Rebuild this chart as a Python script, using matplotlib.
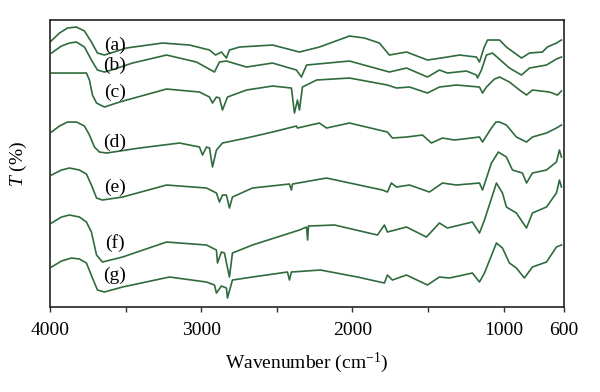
import matplotlib
matplotlib.use("Agg")
import matplotlib.pyplot as plt

plt.rcParams['font.family'] = ['Liberation Serif', 'DejaVu Serif']
plt.rcParams['mathtext.fontset'] = 'custom'
plt.rcParams['mathtext.rm'] = 'Liberation Serif'
plt.rcParams['mathtext.it'] = 'Liberation Serif:italic'

# FTIR spectra (wavenumber in cm-1, transmittance in arbitrary offset units)
wn_a = [4000, 3937, 3884, 3825, 3772, 3726, 3686, 3640, 3494, 3256, 3077, 2945, 2905, 2866, 2833, 2813,
        2747, 2528, 2350, 2218, 2019, 1920, 1821, 1755, 1642, 1503, 1371, 1292, 1179, 1159, 1130, 1106,
        1026, 981, 881, 828, 743, 710, 650, 617]
t_a = [265, 274, 279, 280, 276, 265, 254, 252, 259, 264, 262, 257, 252, 255, 249, 257,
       260, 262, 255, 260, 271, 269, 264, 252, 255, 247, 250, 252, 250, 245, 259, 267,
       267, 260, 249, 254, 255, 260, 264, 267]

wn_b = [3990, 3924, 3871, 3825, 3772, 3726, 3686, 3640, 3593, 3454, 3229, 3031, 2912, 2879, 2833, 2700,
        2528, 2370, 2337, 2303, 2019, 1755, 1642, 1503, 1424, 1371, 1245, 1179, 1172, 1146, 1113, 1073,
        961, 881, 828, 716, 650, 617]
t_b = [254, 261, 264, 265, 260, 247, 237, 235, 237, 244, 252, 245, 235, 245, 246, 240,
       244, 237, 230, 242, 246, 235, 239, 230, 237, 234, 236, 232, 229, 237, 252, 254,
       239, 232, 239, 242, 248, 250]

wn_c = [3990, 3759, 3739, 3719, 3692, 3640, 3540, 3229, 3011, 2945, 2925, 2899, 2879, 2859, 2826, 2700,
        2528, 2403, 2383, 2363, 2350, 2330, 2237, 2019, 1768, 1708, 1622, 1503, 1424, 1312, 1159, 1139,
        1113, 1060, 1026, 961, 894, 848, 809, 696, 643, 617]
t_c = [234, 234, 227, 212, 204, 200, 205, 218, 215, 210, 204, 210, 209, 197, 210, 217,
       221, 219, 194, 207, 197, 220, 227, 229, 222, 219, 220, 214, 220, 222, 220, 214,
       220, 228, 230, 225, 217, 212, 217, 215, 212, 216]

wn_d = [3990, 3937, 3884, 3825, 3772, 3739, 3706, 3673, 3626, 3408, 3143, 3011, 2991, 2965, 2945, 2925,
        2899, 2859, 2700, 2528, 2370, 2363, 2218, 2171, 2019, 1768, 1735, 1642, 1536, 1477, 1404, 1325,
        1159, 1139, 1080, 1050, 1026, 981, 915, 848, 809, 716, 650, 617]
t_d = [175, 181, 185, 185, 181, 172, 160, 155, 154, 159, 164, 160, 152, 160, 159, 140,
       157, 164, 169, 175, 181, 179, 184, 179, 184, 175, 169, 170, 172, 164, 169, 167,
       170, 165, 179, 185, 185, 182, 170, 165, 170, 174, 179, 182]

wn_e = [3990, 3924, 3871, 3805, 3759, 3726, 3692, 3653, 3520, 3229, 2965, 2899, 2879, 2859, 2833, 2813,
        2793, 2661, 2416, 2403, 2396, 2171, 1801, 1768, 1742, 1708, 1622, 1490, 1404, 1312, 1159, 1139,
        1080, 1034, 981, 941, 875, 848, 809, 716, 650, 630, 617]
t_e = [132, 137, 139, 137, 133, 122, 109, 107, 110, 122, 119, 114, 105, 112, 112, 99,
       110, 119, 123, 117, 123, 129, 117, 115, 124, 120, 122, 115, 124, 122, 124, 117,
       144, 155, 150, 137, 134, 124, 134, 137, 145, 157, 150]

wn_f = [3990, 3924, 3871, 3805, 3759, 3726, 3692, 3653, 3520, 3229, 2965, 2899, 2892, 2866, 2846, 2813,
        2793, 2661, 2350, 2303, 2296, 2290, 2118, 1834, 1788, 1768, 1642, 1510, 1424, 1371, 1206, 1159,
        1126, 1047, 1007, 981, 915, 848, 809, 716, 650, 630, 617]
t_f = [84, 90, 92, 90, 85, 75, 52, 45, 50, 65, 62, 57, 44, 55, 54, 30,
       54, 62, 77, 80, 67, 81, 82, 72, 82, 75, 80, 70, 84, 79, 85, 74,
       87, 124, 114, 100, 94, 79, 94, 100, 114, 127, 120]

wn_g = [3990, 3924, 3858, 3805, 3759, 3719, 3686, 3640, 3520, 3210, 2965, 2912, 2899, 2866, 2833, 2826,
        2793, 2661, 2429, 2416, 2403, 2211, 1966, 1788, 1768, 1735, 1642, 1503, 1424, 1358, 1206, 1159,
        1126, 1047, 1007, 961, 915, 862, 809, 716, 650, 617]
t_g = [40, 46, 49, 48, 44, 29, 17, 15, 20, 30, 25, 22, 14, 21, 19, 9,
       27, 30, 35, 27, 35, 37, 30, 24, 32, 27, 32, 22, 30, 29, 34, 25,
       34, 64, 59, 44, 39, 29, 40, 45, 60, 62]

spectra = [(wn_a, t_a), (wn_b, t_b), (wn_c, t_c), (wn_d, t_d), (wn_e, t_e), (wn_f, t_f), (wn_g, t_g)]
labels = ['(a)', '(b)', '(c)', '(d)', '(e)', '(f)', '(g)']
label_t = [262, 242, 215, 165, 120, 64, 32]

fig = plt.figure(figsize=(6, 3.92), dpi=100)
ax = fig.add_axes([0.0833, 0.2168, 0.8567, 0.7321])

for (wn, t), lab, ly in zip(spectra, labels, label_t):
    ax.plot(wn, t, color='#2f6b3c', lw=1.2)
    ax.text(3570, ly, lab, fontsize=14, ha='center', va='center')

ax.set_xlim(4000, 600)
ax.set_ylim(0, 287)
ax.set_xticks([4000, 3500, 3000, 2500, 2000, 1500, 1000, 600])
ax.set_xticklabels(['4000', '', '3000', '', '2000', '', '1000', '600'], fontsize=14)
ax.set_yticks([])
ax.tick_params(axis='x', direction='out', length=3.5, width=1, pad=7, color='#333333')
for s in ax.spines.values():
    s.set_linewidth(1.2)
    s.set_color('#222222')
ax.set_xlabel('Wavenumber (cm$^{-1}$)', fontsize=14, labelpad=9)
ax.set_ylabel('$T$ (%)', fontsize=14, labelpad=15)

fig.savefig('out.png', dpi=100)
